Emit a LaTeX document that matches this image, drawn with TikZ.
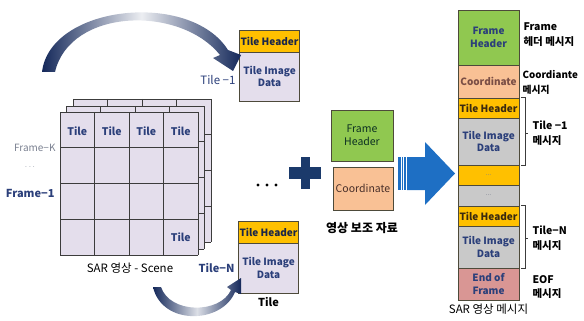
\documentclass[tikz,border=0pt]{standalone}
\usepackage{fontspec}
\setmainfont{Noto Sans CJK KR}
\usetikzlibrary{positioning}

\definecolor{arcnavy}{HTML}{14285A}
\definecolor{plusnavy}{HTML}{1B3A6B}
\definecolor{navytext}{HTML}{2B3F7A}
\definecolor{graytext}{HTML}{7A8090}
\definecolor{framefill}{HTML}{E4DEEC}
\definecolor{gridline}{HTML}{3C3C3C}
\definecolor{boxline}{HTML}{4D4A3A}
\definecolor{fhgreen}{HTML}{90C850}
\definecolor{coordpeach}{HTML}{F9C195}
\definecolor{tileorange}{HTML}{FFC000}
\definecolor{datagray}{HTML}{C9C9C9}
\definecolor{eofrose}{HTML}{D99694}
\definecolor{bigblue}{HTML}{1E6FC4}
\definecolor{hdrtext}{HTML}{3A2A10}
\definecolor{coordtext}{HTML}{7A4E45}

\begin{document}
\begin{tikzpicture}[x=1pt, y=-1pt,
  box/.style={draw=boxline, line width=0.8pt, inner sep=0pt, align=center, minimum width=61pt, font=\bfseries\fontsize{10}{12.5}\selectfont},
  hdr_box/.style={box, fill=tileorange, text=hdrtext, minimum height=20pt},
  data_box/.style={box, fill=datagray, text=navytext},
  tile_data/.style={box, fill=framefill, text=navytext, minimum width=60pt, minimum height=49pt},
  grid_line/.style={gridline, line width=0.7pt},
  tile_lbl/.style={text=navytext, font=\bfseries\fontsize{10.5}{11}\selectfont},
  side_lbl/.style={anchor=west, align=left, font=\bfseries\fontsize{10.5}{14.5}\selectfont},
  plain_lbl/.style={font=\fontsize{11.5}{13}\selectfont}]
  \useasboundingbox (0,0) rectangle (584,321);

  % stacked frames of the scene, back to front
  \foreach \d in {13,6,0} {
    \fill[framefill] (60+\d,112-\d) rectangle (198+\d,255-\d);
    \foreach \i in {0,...,4}
      \draw[grid_line] (60+\d+34.5*\i,112-\d) -- (60+\d+34.5*\i,255-\d);
    \foreach \j in {0,...,4}
      \draw[grid_line] (60+\d,112-\d+35.75*\j) -- (198+\d,112-\d+35.75*\j);
  }
  \foreach \i in {0,...,3}
    \node[tile_lbl] (t\i) at (77.25+34.5*\i,131) {Tile};
  \node[tile_lbl] (tlast) at (180.75,237) {Tile};

  \node[anchor=east, text=graytext, font=\fontsize{10}{11}\selectfont] (fk) at (59,148) {Frame−K};
  \node[text=graytext, font=\fontsize{7}{8}\selectfont] (fdots) at (30,168) {···};
  \node[anchor=east, text=navytext, font=\bfseries\fontsize{11}{12}\selectfont] (f1) at (58,193) {Frame−1};
  \node[plain_lbl] (scene) at (130,268) {SAR 영상 - Scene};

  % first and last tile
  \node[hdr_box, minimum width=60pt, minimum height=22pt, text=navytext!60!black] (tileA_hdr) at (269.5,41) {Tile Header};
  \node[tile_data] (tileA_data) at (269.5,76.5) {Tile Image\\Data};
  \node[anchor=east, text=navytext, font=\fontsize{11.5}{12}\selectfont] (tileA_lbl) at (239,80) {Tile −1};
  \node[hdr_box, minimum width=60pt, minimum height=22pt, text=navytext!60!black] (tileN_hdr) at (268.5,232) {Tile Header};
  \node[tile_data, minimum height=50pt] (tileN_data) at (268.5,268) {Tile Image\\Data};
  \node[anchor=east, text=navytext, font=\bfseries\fontsize{11}{12}\selectfont] (tileN_lbl) at (238,268) {Tile−N};
  \node[below=0pt of tileN_data, font=\bfseries\fontsize{11}{12}\selectfont] (tile_cap) {Tile};

  % curved arrows out of the scene
  \shade[left color=arcnavy, right color=arcnavy, middle color=arcnavy!8]
    (42,72) .. controls (50,5) and (190,-10) .. (228,50) -- (241,55) -- (233,71) -- (213,58)
    -- (220,55) .. controls (180,5) and (70,8) .. (55,72) -- cycle;
  \shade[left color=arcnavy, right color=arcnavy, middle color=arcnavy!15]
    (153,287) .. controls (162,326) and (222,324) .. (235,292) -- (241,294) -- (241,278)
    -- (227,287) -- (231,290) .. controls (220,314) and (170,314) .. (161,287) -- cycle;

  % dots and plus
  \foreach \x in {258,267,276}
    \fill (\x,185) circle (1.6);
  \fill[plusnavy] (289,167) rectangle (321,179);
  \fill[plusnavy] (301,157) rectangle (310,189);

  % image auxiliary data
  \node[box, fill=fhgreen, text=navytext!70!green!40!black, minimum width=62pt, minimum height=51pt, font=\fontsize{10.5}{13}\selectfont] (aux_fh) at (362,135.5) {Frame\\Header};
  \node[box, fill=coordpeach, text=coordtext!60!black, minimum width=60pt, minimum height=43pt, font=\fontsize{10.5}{13}\selectfont] (aux_co) at (363,188.5) {Coordinate};
  \node[font=\bfseries\fontsize{12}{13}\selectfont] (aux_lbl) at (362,228) {영상 보조 자료};

  % big arrow
  \fill[bigblue] (398,157) rectangle (400.5,190);
  \fill[bigblue] (401.7,157) rectangle (403.3,190);
  \fill[bigblue] (404.3,157) rectangle (406,190);
  \fill[bigblue] (407,157) -- (425,157) -- (425,142) -- (455,173.5) -- (425,205) -- (425,190) -- (407,190) -- cycle;

  % SAR image message
  \node[box, fill=fhgreen, text=navytext, minimum height=55pt] (m_fh) at (488.5,37.5) {Frame\\Header};
  \node[box, fill=coordpeach, text=coordtext, minimum height=33pt] (m_co) at (488.5,81.5) {Coordinate};
  \node[hdr_box] (m_t1h) at (488.5,108) {Tile Header};
  \node[data_box, minimum height=47pt] (m_t1d) at (488.5,141.5) {Tile Image\\Data};
  \node[hdr_box, text=graytext, font=\fontsize{7}{8}\selectfont] (m_dot1) at (488.5,175) {...};
  \node[data_box, text=graytext, minimum height=21pt, font=\fontsize{7}{8}\selectfont] (m_dot2) at (488.5,195.5) {...};
  \node[hdr_box] (m_tnh) at (488.5,216) {Tile Header};
  \node[data_box, minimum height=42pt] (m_tnd) at (488.5,247) {Tile Image\\Data};
  \node[box, fill=eofrose, text=navytext, minimum height=32pt] (m_eof) at (488.5,284) {End of\\Frame};
  \node[below=0pt of m_eof, plain_lbl] (m_lbl) {SAR 영상 메시지};

  \node[side_lbl] (l_fh) at (520,34.5) {Frame\\헤더 메시지};
  \node[side_lbl, font=\bfseries\fontsize{9.8}{14.5}\selectfont] (l_co) at (519,82.5) {Coordiante\\메시지};
  \node[side_lbl] (l_t1) at (529,133) {Tile −1\\메시지};
  \node[side_lbl] (l_tn) at (529,238) {Tile−N\\메시지};
  \node[side_lbl] (l_eof) at (529,287) {EOF\\메시지};

  % brackets for the tile messages
  \draw[gridline, line width=0.6pt] (m_t1h.north east) ++(2,0) -- ++(4,0) |- ([xshift=2pt]m_t1d.south east)
    ([xshift=6pt]m_t1d.south east |- l_t1) -- ++(3,0);
  \draw[gridline, line width=0.6pt] (m_tnh.north east) ++(2,0) -- ++(4,0) |- ([xshift=2pt]m_tnd.south east)
    ([xshift=6pt]m_tnd.south east |- l_tn) -- ++(3,0);
\end{tikzpicture}
\end{document}
